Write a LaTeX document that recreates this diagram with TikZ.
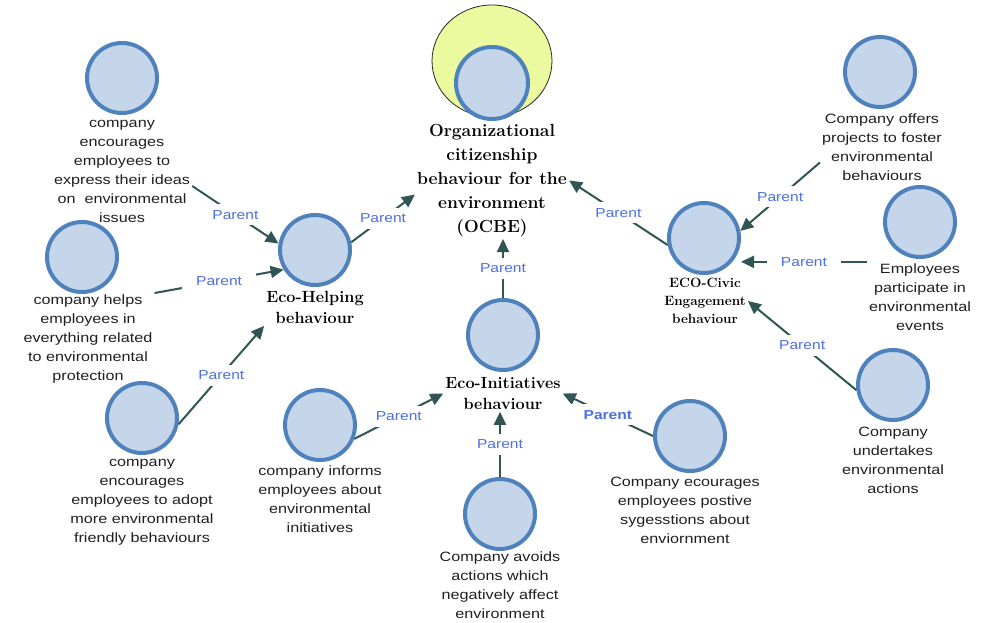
\documentclass[tikz,border=0pt]{standalone}
\usepackage{fontspec}
\newfontfamily\lblfont[FakeStretch=1.2]{Liberation Sans}
\usetikzlibrary{arrows.meta,shapes.geometric}
\definecolor{ringblue}{HTML}{4F81BD}
\definecolor{discfill}{HTML}{C6D6EA}
\definecolor{limefill}{HTML}{EBFA9E}
\definecolor{linkcol}{HTML}{2F5654}
\definecolor{parentblue}{HTML}{4D6FE6}

\begin{document}
\begin{tikzpicture}[x=1pt,y=1pt,
  disc/.style={circle, draw=ringblue, line width=4pt, fill=discfill, minimum size=70pt, inner sep=0pt},
  desc/.style={align=center, font=\lblfont\fontsize{13.5}{19}\selectfont, text=black!88, inner sep=2pt},
  head/.style={align=center, font=\bfseries\fontsize{16.2}{21}\selectfont, inner sep=2pt},
  link/.style={draw=linkcol, line width=2pt, -{Triangle[length=13pt,width=12pt]}},
  parent/.style={fill=white, text=parentblue, font=\lblfont\fontsize{13}{15}\selectfont, inner xsep=14pt, inner ysep=6pt},
]
\useasboundingbox (0,0) rectangle (981,622);

% root concept
\node (ocbeouter) [ellipse, draw=black!85, line width=0.8pt, fill=limefill,
  minimum width=120pt, minimum height=112pt, inner sep=0pt] at (492,561) {};
\node (o) [disc, minimum size=72pt] at (492,539) {};
\node (Lo) [align=center, font=\bfseries\fontsize{17.5}{24}\selectfont, inner sep=2pt] at (492,441.5)
  {Organizational\\citizenship\\behaviour for the\\environment\\(OCBE)};

% second level concepts
\node (h) [disc] at (315,372) {};
\node (Lh) [head] at (315,314.5) {Eco-Helping\\behaviour};
\node (i) [disc] at (503,287) {};
\node (Li) [head] at (503,228.5) {Eco-Initiatives\\behaviour};
\node (e) [disc] at (704,384) {};
\node (Le) [align=center, font=\bfseries\fontsize{13.5}{18}\selectfont, inner sep=2pt] at (705,321)
  {ECO-Civic\\Engagement\\behaviour};

% leaf concepts
\node (c1) [disc] at (122,544) {};
\node (L1) [desc] at (122,451) {company\\encourages\\employees to\\express their ideas\\on~~environmental\\issues};
\node (c2) [disc] at (82,365) {};
\node (L2) [desc] at (88,282.5) {company helps\\employees in\\everything related\\to environmental\\protection};
\node (c3) [disc] at (142,204) {};
\node (L3) [desc] at (142,120) {company\\encourages\\employees to adopt\\more environmental\\friendly behaviours};
\node (c4) [disc] at (320,197) {};
\node (L4) [desc] at (320,122.5) {company informs\\employees about\\environmental\\initiatives};
\node (c5) [disc] at (500,108) {};
\node (L5) [desc] at (500,37) {Company avoids\\actions which\\negatively affect\\environment};
\node (c6) [disc] at (690,186) {};
\node (L6) [desc] at (685,111.5) {Company ecourages\\employees postive\\sygesstions about\\enviornment};
\node (c7) [disc] at (880,550) {};
\node (L7) [desc] at (882,474.5) {Company offers\\projects to foster\\environmental\\behaviours};
\node (c8) [disc] at (920,400) {};
\node (L8) [desc] at (920,324.5) {Employees\\participate in\\environmental\\events};
\node (c9) [disc] at (893,237) {};
\node (L9) [desc] at (893,162) {Company\\undertakes\\environmental\\actions};

% "Parent" links
\draw[link] ([yshift=-15pt]L1.east) -- node[parent]{Parent} (h.170);
\draw[link] (L2.north east) -- node[parent]{Parent} (h.212);
\draw[link] (c3.-10) -- node[parent]{Parent} (Lh.south west);
\draw[link] (h.12) -- node[parent]{Parent} ([yshift=-14pt]Lo.west);
\draw[link] (i.north) -- node[parent]{Parent} (i.north |- Lo.south);
\draw[link] (e.191) -- node[parent]{Parent} (Lo.east);
\draw[link] ([yshift=-15pt]L7.west) -- node[parent]{Parent} (e.11);
\draw[link] (L8.north west) -- node[parent]{Parent} (e.east |- L8.north west);
\draw[link] (c9.188) -- node[parent]{Parent} (Le.east);
\draw[link] (c4.-22) -- node[parent]{Parent} (Li.west);
\draw[link] (c5.north) -- node[parent]{Parent} (c5.north |- Li.south);
\draw[link] (c6.west) -- node[parent, font=\lblfont\bfseries\fontsize{13}{15}\selectfont]{Parent} (Li.east);
\end{tikzpicture}
\end{document}
